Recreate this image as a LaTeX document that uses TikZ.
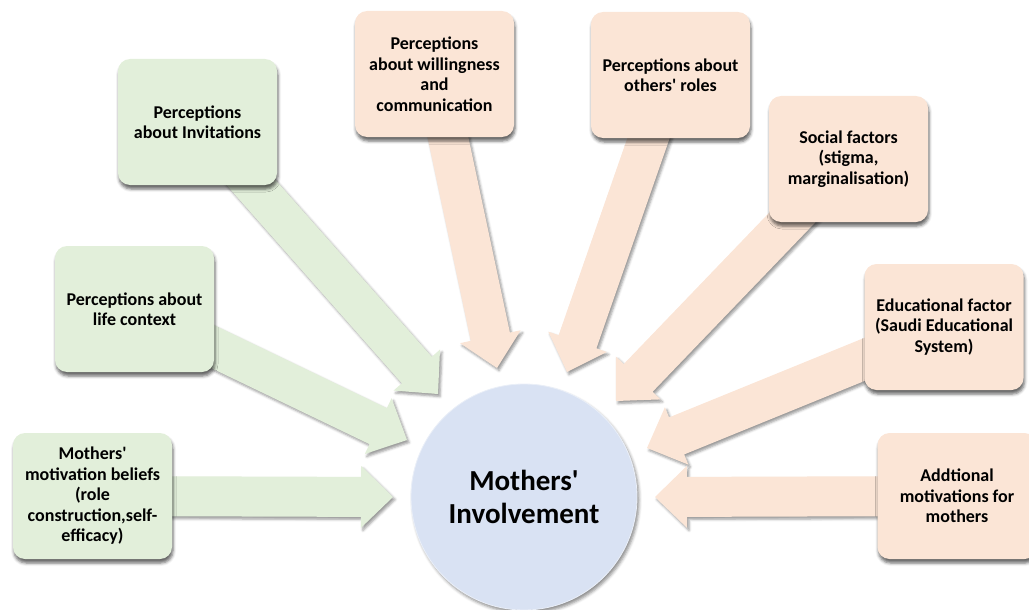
\documentclass[tikz,border=0pt]{standalone}
\usepackage{fontspec}
\setmainfont{Carlito}
\usetikzlibrary{calc,shadows.blur}

\definecolor{boxgreen}{HTML}{E2EFDA}
\definecolor{boxpeach}{HTML}{FBE5D6}
\definecolor{hubblue}{HTML}{D9E2F3}

\pgfdeclarelayer{arrowlayer}
\pgfsetlayers{arrowlayer,main}

\newcommand{\apos}{\textquotesingle}

\tikzset{
  factor/.style={rectangle, rounded corners=12pt, minimum width=159pt,
    minimum height=126pt, inner sep=2pt, align=center,
    font=\fontsize{18}{20.5}\selectfont\bfseries,
    blur shadow={shadow xshift=1pt, shadow yshift=-4pt,
      shadow blur radius=3pt, shadow opacity=60}},
  greenbox/.style={factor, fill=boxgreen},
  peachbox/.style={factor, fill=boxpeach},
  hub/.style={circle, minimum size=226pt, inner sep=0pt, fill=hubblue,
    draw=hubblue!55!white, line width=0.8pt, align=center,
    font=\fontsize{29}{32.5}\selectfont\bfseries,
    blur shadow={shadow xshift=2pt, shadow yshift=-3pt,
      shadow blur radius=3pt, shadow opacity=45}},
  arrowshadow/.style={blur shadow={shadow xshift=2pt, shadow yshift=-2.5pt,
      shadow blur radius=2.5pt, shadow opacity=40}}
}

% Block arrow from the centre of a node to a tip coordinate:
% #1 name, #2 start, #3 tip, #4 fill colour
\newcommand{\fatarrow}[4]{%
  \coordinate (#1-b) at ($(#3)!32pt!(#2)$);
  \fill[#4, arrowshadow]
    ($(#2)!20pt!90:(#3)$) -- ($(#1-b)!20pt!90:(#3)$) --
    ($(#1-b)!31pt!90:(#3)$) -- (#3) --
    ($(#1-b)!31pt!-90:(#3)$) -- ($(#1-b)!20pt!-90:(#3)$) --
    ($(#2)!20pt!-90:(#3)$) -- cycle;
}

\begin{document}
\begin{tikzpicture}[x=1pt, y=-1pt]
\useasboundingbox (0,0) rectangle (1029,610);
\clip (0,0) rectangle (1029,610);

% factor boxes
\node[greenbox] (inv)    at (197.5,122) {Perceptions\\about Invitations};
\node[greenbox] (life)   at (134.5,309) {Perceptions about\\life context};
\node[greenbox] (motiv)  at (92.5,496)  {Mothers\apos\\motivation beliefs\\(role\\construction,self-\\efficacy)};
\node[peachbox] (will)   at (434.5,74)  {Perceptions\\about willingness\\and\\communication};
\node[peachbox] (roles)  at (670.5,75)  {Perceptions about\\others\apos{} roles};
\node[peachbox] (social) at (848.5,159) {Social factors\\(stigma,\\marginalisation)};
\node[peachbox] (edu)    at (944,327)   {Educational factor\\(Saudi Educational\\System)};
\node[peachbox] (extra)  at (957,496)   {Addtional\\motivations for\\mothers};

% central outcome
\node[hub] (inv-hub) at (524,497) {Mothers\apos\\Involvement};

% arrow tips
\coordinate (t-inv)    at (438,394);
\coordinate (t-life)   at (407,440);
\coordinate (t-motiv)  at (393,497);
\coordinate (t-will)   at (497,368);
\coordinate (t-roles)  at (567,372);
\coordinate (t-social) at (616,401);
\coordinate (t-edu)    at (647,448);
\coordinate (t-extra)  at (655,497);

\begin{pgfonlayer}{arrowlayer}
  \fatarrow{a-inv}{inv.center}{t-inv}{boxgreen}
  \fatarrow{a-life}{life.center}{t-life}{boxgreen}
  \fatarrow{a-motiv}{motiv.center}{t-motiv}{boxgreen}
  \fatarrow{a-will}{will.center}{t-will}{boxpeach}
  \fatarrow{a-roles}{roles.center}{t-roles}{boxpeach}
  \fatarrow{a-social}{social.center}{t-social}{boxpeach}
  \fatarrow{a-edu}{edu.center}{t-edu}{boxpeach}
  \fatarrow{a-extra}{extra.center}{t-extra}{boxpeach}
\end{pgfonlayer}
\end{tikzpicture}
\end{document}
